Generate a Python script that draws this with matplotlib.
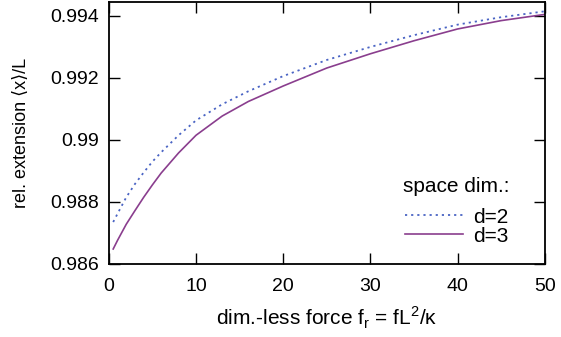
import matplotlib
matplotlib.use("Agg")
import matplotlib.pyplot as plt
from matplotlib.ticker import FuncFormatter

plt.rcParams['font.family'] = ['Liberation Sans', 'DejaVu Sans']
plt.rcParams['mathtext.fontset'] = 'custom'
plt.rcParams['mathtext.rm'] = 'Liberation Sans'

# values
force = [0.5, 1, 2, 3, 4, 5, 6, 8, 10, 13, 16, 20, 25, 30, 35, 40, 45, 50]
ext_d2 = [0.98735, 0.98762, 0.98815, 0.98858, 0.98895, 0.98930, 0.98960, 0.99015, 0.99063,
          0.99115, 0.99157, 0.99206, 0.99258, 0.99300, 0.99338, 0.99372, 0.99396, 0.99415]
ext_d3 = [0.98648, 0.98676, 0.98728, 0.98772, 0.98815, 0.98855, 0.98893, 0.98958, 0.99015,
          0.99077, 0.99124, 0.99174, 0.99232, 0.99278, 0.99320, 0.99358, 0.99385, 0.99405]

xticks = [0, 10, 20, 30, 40, 50]
yticks = [0.986, 0.988, 0.99, 0.992, 0.994]

fig = plt.figure(figsize=(5.61, 3.37), dpi=100)
ax = fig.add_axes([0.194, 0.217, 0.777, 0.777])

ax.plot(force, ext_d2, color='#4a64c4', linestyle=(0, (1.2, 2.2)), linewidth=1.3, label='d=2')
ax.plot(force, ext_d3, color='#8a3e8e', linestyle='-', linewidth=1.2, label='d=3')

ax.set_xlim(0, 50)
ax.set_ylim(0.986, 0.99445)
ax.set_xticks(xticks)
ax.set_yticks(yticks)
ax.yaxis.set_major_formatter(FuncFormatter(lambda v, p: '%g' % v))
ax.tick_params(direction='in', length=8, width=1, top=True, right=True, labelsize=14)
ax.tick_params(axis='x', pad=10)
ax.tick_params(axis='y', pad=7)
for s in ax.spines.values():
    s.set_linewidth(1.3)

ax.set_xlabel(r'dim.-less force f$_\mathregular{r}$ = fL$^\mathregular{2}$/κ', fontsize=15, labelpad=7)
ax.set_ylabel('rel. extension ⟨x⟩/L', fontsize=13, labelpad=15)

leg = ax.legend(loc='lower right', bbox_to_anchor=(0.92, 0.07), frameon=False, fontsize=15,
                title='space dim.:', title_fontsize=15, handlelength=2.8, handletextpad=0.45,
                labelspacing=0.0, borderpad=0, borderaxespad=0)
leg._legend_box.sep = 8

fig.savefig('out.png', dpi=100)
